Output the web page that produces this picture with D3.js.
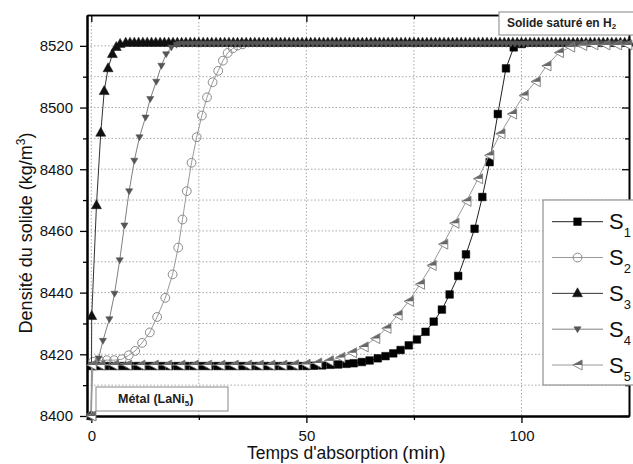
<!DOCTYPE html>
<html>
<head>
<meta charset="utf-8">
<script src="https://cdn.jsdelivr.net/npm/d3@7"></script>
<style>
body { margin:0; background:#fff; }
svg { display:block; font-family: "Liberation Sans", Arial, sans-serif; }
svg text { font-family: "Liberation Sans", Arial, sans-serif; }
</style>
</head>
<body>
<div id="chart"></div>
<script>
// ---- values ----
var xMajorTicks = [0, 50, 100];
var xMinorTicks = [25, 75];
var yMajorTicks = [8400, 8420, 8440, 8460, 8480, 8500, 8520];
var yMinorTicks = [8410, 8430, 8450, 8470, 8490, 8510];
var xGrid = [0, 25, 50, 75, 100];
var yGrid = [8410, 8420, 8430, 8440, 8450, 8460, 8470, 8480, 8490, 8500, 8510, 8520];

var seriesNames = ["S1", "S2", "S3", "S4", "S5"];
var seriesSubs = ["1", "2", "3", "4", "5"];

// S1 : black squares
var s1Time = [0, 0.1, 1.3, 3.2, 5.1, 7.0, 8.8, 10.7, 12.6, 14.4, 16.3, 18.2, 20.1, 21.9, 23.8, 25.7, 27.5, 29.4, 31.3, 33.1,
  35.0, 36.9, 38.8, 40.6, 42.5, 44.4, 46.2, 48.1, 50.0, 51.8, 53.7, 55.6, 57.4, 59.3, 61.0, 62.9, 64.7, 66.6, 68.4, 70.2,
  71.9, 73.8, 75.7, 77.7, 79.6, 81.5, 83.3, 85.3, 87.1, 89.1, 90.9, 92.6, 94.5, 96.4, 98.2, 100.1];
var s1Rho = [8400, 8416.2, 8416.2, 8416.2, 8416.2, 8416.2, 8416.2, 8416.2, 8416.2, 8416.2, 8416.2, 8416.2, 8416.2, 8416.2, 8416.2, 8416.2, 8416.2, 8416.2, 8416.2, 8416.2,
  8416.2, 8416.2, 8416.2, 8416.2, 8416.2, 8416.2, 8416.2, 8416.2, 8416.2, 8416.3, 8416.4, 8416.6, 8416.7, 8416.9, 8417.1, 8417.5, 8418.0, 8418.7, 8419.4, 8420.3,
  8421.4, 8422.9, 8424.8, 8427.3, 8430.6, 8434.5, 8439.4, 8445.4, 8452.4, 8460.7, 8471.0, 8482.3, 8497.9, 8512.7, 8519.5, 8520.6];

// S2 : open circles
var s2Time = [0, 0.4, 1.9, 3.6, 5.3, 7.1, 8.7, 10.2, 11.8, 13.6, 15.3, 17.2, 18.9, 20.2, 21.2, 22.2, 23.3, 24.5, 25.7, 26.9,
  28.2, 29.5, 30.6, 31.7, 32.9, 34.0, 35.2];
var s2Rho = [8400, 8417.6, 8417.9, 8418.1, 8418.1, 8418.4, 8419.7, 8421.1, 8423.7, 8427.1, 8432.1, 8438.3, 8445.9, 8454.6, 8463.7, 8472.9, 8482.1, 8490.4, 8497.4, 8503.3,
  8508.2, 8511.9, 8515.2, 8517.7, 8519.2, 8520.1, 8520.5];

// S3 : black up triangles
var s3Time = [0, 0.1, 1.2, 2.2, 3.0, 3.9, 4.9, 5.8, 6.7,
  8, 9, 10, 11, 12, 13, 14, 15, 16, 17, 18, 19, 20, 21, 22, 23, 24, 25, 26, 27,
  28, 29, 30, 31, 32, 33, 34, 35, 36, 37, 38, 39, 40, 41, 42, 43, 44, 45, 46, 47,
  48, 49, 50, 51, 52, 53, 54, 55, 56, 57, 58, 59, 60, 61, 62, 63, 64, 65, 66, 67,
  68, 69, 70, 71, 72, 73, 74, 75, 76, 77, 78, 79, 80, 81, 82, 83, 84, 85, 86, 87,
  88, 89, 90, 91, 92, 93, 94, 95, 96, 97, 98, 99, 100, 101, 102, 103, 104, 105, 106, 107,
  108, 109, 110, 111, 112, 113, 114, 115, 116, 117, 118, 119, 120, 121, 122, 123, 124, 125];
var s3Rho = [8400, 8432.4, 8468.3, 8491.8, 8505.3, 8512.7, 8517.3, 8519.6, 8520.6,
  8521, 8521, 8521, 8521, 8521, 8521, 8521, 8521, 8521, 8521, 8521, 8521, 8521, 8521, 8521, 8521, 8521, 8521, 8521, 8521,
  8521, 8521, 8521, 8521, 8521, 8521, 8521, 8521, 8521, 8521, 8521, 8521, 8521, 8521, 8521, 8521, 8521, 8521, 8521, 8521,
  8521, 8521, 8521, 8521, 8521, 8521, 8521, 8521, 8521, 8521, 8521, 8521, 8521, 8521, 8521, 8521, 8521, 8521, 8521, 8521,
  8521, 8521, 8521, 8521, 8521, 8521, 8521, 8521, 8521, 8521, 8521, 8521, 8521, 8521, 8521, 8521, 8521, 8521, 8521, 8521,
  8521, 8521, 8521, 8521, 8521, 8521, 8521, 8521, 8521, 8521, 8521, 8521, 8521, 8521, 8521, 8521, 8521, 8521, 8521, 8521,
  8521, 8521, 8521, 8521, 8521, 8521, 8521, 8521, 8521, 8521, 8521, 8521, 8521, 8521, 8521, 8521, 8521, 8521];

// S4 : grey down triangles
var s4Time = [0, 0.1, 1.7, 2.7, 4.2, 5.4, 6.6, 7.7, 8.8, 10.0, 11.2, 12.6, 13.7, 15.1, 16.3, 17.4, 18.6, 19.8,
  20.5, 21.5, 22.5, 23.5, 24.5, 25.5, 26.5, 27.5, 28.5, 29.5, 30.5, 31.5, 32.5, 33.5, 34.5, 35.5, 36.5, 37.5, 38.5, 39.5,
  40.5, 41.5, 42.5, 43.5, 44.5, 45.5, 46.5, 47.5, 48.5, 49.5, 50.5, 51.5, 52.5, 53.5, 54.5, 55.5, 56.5, 57.5, 58.5, 59.5,
  60.5, 61.5, 62.5, 63.5, 64.5, 65.5, 66.5, 67.5, 68.5, 69.5, 70.5, 71.5, 72.5, 73.5, 74.5, 75.5, 76.5, 77.5, 78.5, 79.5,
  80.5, 81.5, 82.5, 83.5, 84.5, 85.5, 86.5, 87.5, 88.5, 89.5, 90.5, 91.5, 92.5, 93.5, 94.5, 95.5, 96.5, 97.5, 98.5, 99.5,
  100.5, 101.5, 102.5, 103.5, 104.5, 105.5, 106.5, 107.5, 108.5, 109.5, 110.5, 111.5, 112.5, 113.5, 114.5, 115.5, 116.5, 117.5, 118.5, 119.5,
  120.5, 121.5, 122.5, 123.5, 124.5];
var s4Rho = [8400, 8416.5, 8418.7, 8424.4, 8431.4, 8439.7, 8450.5, 8461.8, 8472.9, 8482.8, 8490.4, 8496.8, 8502.8, 8508.4, 8513.6, 8517.3, 8519.5, 8520.4,
  8520.7, 8520.7, 8520.7, 8520.7, 8520.7, 8520.7, 8520.7, 8520.7, 8520.7, 8520.7, 8520.7, 8520.7, 8520.7, 8520.7, 8520.7, 8520.7, 8520.7, 8520.7, 8520.7, 8520.7,
  8520.7, 8520.7, 8520.7, 8520.7, 8520.7, 8520.7, 8520.7, 8520.7, 8520.7, 8520.7, 8520.7, 8520.7, 8520.7, 8520.7, 8520.7, 8520.7, 8520.7, 8520.7, 8520.7, 8520.7,
  8520.7, 8520.7, 8520.7, 8520.7, 8520.7, 8520.7, 8520.7, 8520.7, 8520.7, 8520.7, 8520.7, 8520.7, 8520.7, 8520.7, 8520.7, 8520.7, 8520.7, 8520.7, 8520.7, 8520.7,
  8520.7, 8520.7, 8520.7, 8520.7, 8520.7, 8520.7, 8520.7, 8520.7, 8520.7, 8520.7, 8520.7, 8520.7, 8520.7, 8520.7, 8520.7, 8520.7, 8520.7, 8520.7, 8520.7, 8520.7,
  8520.7, 8520.7, 8520.7, 8520.7, 8520.7, 8520.7, 8520.7, 8520.7, 8520.7, 8520.7, 8520.7, 8520.7, 8520.7, 8520.7, 8520.7, 8520.7, 8520.7, 8520.7, 8520.7, 8520.7,
  8520.7, 8520.7, 8520.7, 8520.7, 8520.7];

// S5 : half filled left triangles
var s5Time = [0, 0.1, 2.1, 5.2, 8.3, 11.4, 14.5, 17.6, 20.7, 23.8, 26.9, 30.0, 33.1, 36.2, 38.9, 41.6, 44.4, 47.1, 49.8, 52.5,
  55.2, 57.9, 60.6, 63.3, 66.0, 68.6, 71.2, 73.8, 76.4, 79.1, 81.8, 84.4, 87.2, 89.9, 92.5, 95.1, 97.8, 100.5, 103.3, 105.8,
  108.7, 111.3, 114.1, 116.7, 119.5, 122.2, 124.6];
var s5Rho = [8400, 8416.5, 8416.5, 8416.5, 8416.5, 8416.5, 8416.5, 8416.5, 8416.5, 8416.5, 8416.5, 8416.5, 8416.5, 8416.5, 8416.5, 8416.5, 8416.5, 8416.6, 8416.8, 8417.2,
  8417.9, 8419.0, 8420.5, 8422.4, 8425.1, 8428.4, 8432.7, 8437.2, 8442.7, 8448.8, 8455.7, 8462.5, 8469.6, 8476.9, 8484.5, 8491.5, 8497.9, 8503.9, 8508.4, 8513.5,
  8517.8, 8519.6, 8520.1, 8520.3, 8520.3, 8520.3, 8520.3];

// ---- layout ----
var viewboxwidth = 633;
var viewboxheight = 464;
var margin = {top:15, bottom:48, left:87, right:4};
var fontFam = "'Liberation Sans', Arial, sans-serif";

var svg = d3.select("#chart")
    .append("svg")
    .attr("width", viewboxwidth)
    .attr("height", viewboxheight);

var x = d3.scaleLinear()
    .domain([-1, 125])
    .range([margin.left, viewboxwidth - margin.right]);

var y = d3.scaleLinear()
    .domain([8400, 8530])
    .range([viewboxheight - margin.bottom, margin.top]);

// grid
var grid = svg.append("g").attr("class", "grid");
grid.selectAll(".gx")
    .data(xGrid)
    .enter().append("line")
    .attr("x1", function(d){ return x(d); })
    .attr("x2", function(d){ return x(d); })
    .attr("y1", y(8530))
    .attr("y2", y(8400))
    .style("stroke", "#a8a8a8")
    .style("stroke-width", 1)
    .style("stroke-dasharray", "1.5,2");
grid.selectAll(".gy")
    .data(yGrid)
    .enter().append("line")
    .attr("x1", x(-1))
    .attr("x2", x(125))
    .attr("y1", function(d){ return y(d); })
    .attr("y2", function(d){ return y(d); })
    .style("stroke", "#a8a8a8")
    .style("stroke-width", 1)
    .style("stroke-dasharray", "1.5,2");

// axes
function styleAxis(g, w) {
    g.attr("font-family", null);
    g.select(".domain").style("stroke", "#000").style("stroke-width", w);
    g.selectAll(".tick line").style("stroke", "#000").style("stroke-width", 1.3);
    g.selectAll("text").style("font-size", "15px").style("font-family", fontFam).style("fill", "#111");
}

svg.append("g")
    .attr("transform", "translate(0," + y(8400) + ")")
    .call(d3.axisBottom(x).tickValues(xMajorTicks).tickSize(7).tickPadding(7).tickSizeOuter(0))
    .call(styleAxis, 2);
svg.append("g")
    .attr("transform", "translate(0," + y(8400) + ")")
    .call(d3.axisBottom(x).tickValues(xMinorTicks).tickSize(4).tickFormat("").tickSizeOuter(0))
    .call(styleAxis, 2);

svg.append("g")
    .attr("transform", "translate(0," + y(8530) + ")")
    .call(d3.axisTop(x).tickValues(xMajorTicks).tickSize(-7).tickFormat("").tickSizeOuter(0))
    .call(styleAxis, 1.6);
svg.append("g")
    .attr("transform", "translate(0," + y(8530) + ")")
    .call(d3.axisTop(x).tickValues(xMinorTicks).tickSize(-4).tickFormat("").tickSizeOuter(0))
    .call(styleAxis, 1.6);

svg.append("g")
    .attr("transform", "translate(" + x(-1) + ",0)")
    .call(d3.axisLeft(y).tickValues(yMajorTicks).tickFormat(d3.format("d")).tickSize(7).tickPadding(7).tickSizeOuter(0))
    .call(styleAxis, 2);
svg.append("g")
    .attr("transform", "translate(" + x(-1) + ",0)")
    .call(d3.axisLeft(y).tickValues(yMinorTicks).tickSize(4).tickFormat("").tickSizeOuter(0))
    .call(styleAxis, 2);

svg.append("g")
    .attr("transform", "translate(" + x(125) + ",0)")
    .call(d3.axisRight(y).tickValues(yMajorTicks).tickSize(-7).tickFormat("").tickSizeOuter(0))
    .call(styleAxis, 1.6);
svg.append("g")
    .attr("transform", "translate(" + x(125) + ",0)")
    .call(d3.axisRight(y).tickValues(yMinorTicks).tickSize(-4).tickFormat("").tickSizeOuter(0))
    .call(styleAxis, 1.6);

// axis titles
var xtitle = svg.append("text")
    .attr("x", 247)
    .attr("y", 459)
    .style("font-family", fontFam)
    .style("font-size", "17.5px")
    .style("fill", "#111");
xtitle.append("tspan").text("Temps d'absorption");
xtitle.append("tspan").attr("dx", 4).style("font-size", "19px").text("(min)");

var ytitle = svg.append("text")
    .attr("transform", "translate(32," + 233 + ") rotate(-90)")
    .style("text-anchor", "middle")
    .style("font-family", fontFam)
    .style("font-size", "18px")
    .style("fill", "#111");
ytitle.append("tspan").text("Densité du solide (kg/m");
ytitle.append("tspan").attr("dy", -7).style("font-size", "12px").text("3");
ytitle.append("tspan").attr("dy", 7).text(")");

// markers
function markerShape(sel, kind) {
    if (kind == "square") {
        sel.append("path").attr("d", "M-3.8,-3.8h7.6v7.6h-7.6Z")
            .style("fill", "#000").style("stroke", "#000").style("stroke-width", 0.5);
    } else if (kind == "circle") {
        sel.append("circle").attr("r", 4.4)
            .style("fill", "none").style("stroke", "#8a8a8a").style("stroke-width", 1);
    } else if (kind == "up") {
        sel.append("path").attr("d", "M0,-5.6L5,3.4L-5,3.4Z")
            .style("fill", "#111").style("stroke", "#111").style("stroke-width", 0.5);
    } else if (kind == "down") {
        sel.append("path").attr("d", "M-3.6,-2.4L3.6,-2.4L0,3.6Z")
            .style("fill", "#555").style("stroke", "#555").style("stroke-width", 0.5);
    } else if (kind == "left") {
        sel.append("path").attr("d", "M-4.6,0L4.6,0L4.6,5Z")
            .style("fill", "#fff");
        sel.append("path").attr("d", "M-4.6,0L4.6,-5L4.6,0Z")
            .style("fill", "#666");
        sel.append("path").attr("d", "M-4.6,0L4.6,-5L4.6,5Z")
            .style("fill", "none").style("stroke", "#7a7a7a").style("stroke-width", 0.9);
    }
}

var seriesList = [
    {name:seriesNames[0], t:s1Time, rho:s1Rho, line:"#222", marker:"square"},
    {name:seriesNames[1], t:s2Time, rho:s2Rho, line:"#9a9a9a", marker:"circle"},
    {name:seriesNames[2], t:s3Time, rho:s3Rho, line:"#333", marker:"up"},
    {name:seriesNames[3], t:s4Time, rho:s4Rho, line:"#808080", marker:"down"},
    {name:seriesNames[4], t:s5Time, rho:s5Rho, line:"#999", marker:"left"}
];

var line = d3.line()
    .x(function(d){ return x(d[0]); })
    .y(function(d){ return y(d[1]); });

seriesList.forEach(function(s) {
    var pts = d3.zip(s.t, s.rho);
    var g = svg.append("g").attr("class", "series");
    g.append("path")
        .datum(pts)
        .attr("d", line)
        .style("fill", "none")
        .style("stroke", s.line)
        .style("stroke-width", 1);
    g.selectAll(".m")
        .data(pts)
        .enter().append("g")
        .attr("transform", function(d){ return "translate(" + x(d[0]) + "," + y(d[1]) + ")"; })
        .each(function(){ markerShape(d3.select(this), s.marker); });
});

// annotation boxes
svg.append("rect")
    .attr("x", 96).attr("y", 387).attr("width", 132).attr("height", 24)
    .style("fill", "#fff").style("stroke", "#888").style("stroke-width", 1);
var metal = svg.append("text")
    .attr("x", 118).attr("y", 403)
    .style("font-family", fontFam)
    .style("font-size", "12.5px").style("font-weight", "bold").style("fill", "#222");
metal.append("tspan").text("Métal (LaNi");
metal.append("tspan").attr("dy", 3).style("font-size", "8px").text("5");
metal.append("tspan").attr("dy", -3).text(")");

svg.append("rect")
    .attr("x", 499).attr("y", 12).attr("width", 140).attr("height", 23)
    .style("fill", "#fff").style("stroke", "#999").style("stroke-width", 1.2);
var sat = svg.append("text")
    .attr("x", 507).attr("y", 27)
    .style("font-family", fontFam)
    .style("font-size", "12px").style("font-weight", "bold").style("fill", "#222");
sat.append("tspan").text("Solide saturé en H");
sat.append("tspan").attr("dy", 2).style("font-size", "8px").text("2");

// legend
var legend = svg.append("g").attr("class", "legend");
legend.append("rect")
    .attr("x", 543).attr("y", 200).attr("width", 100).attr("height", 185)
    .style("fill", "#fff").style("stroke", "#999").style("stroke-width", 1.3);

var legendY = d3.scalePoint().domain(seriesNames).range([221.7, 365]);

seriesList.forEach(function(s, i) {
    var ly = legendY(s.name);
    legend.append("line")
        .attr("x1", 552).attr("x2", 603).attr("y1", ly).attr("y2", ly)
        .style("stroke", s.line).style("stroke-width", 1);
    var m = legend.append("g").attr("transform", "translate(577.5," + ly + ")");
    markerShape(m, s.marker);
    var t = legend.append("text")
        .attr("x", 609).attr("y", ly + 7.5)
        .style("font-family", fontFam)
        .style("font-size", "22px").style("fill", "#111");
    t.append("tspan").text("S");
    t.append("tspan").attr("dy", 8).style("font-size", "13px").text(seriesSubs[i]);
});
</script>
</body>
</html>
